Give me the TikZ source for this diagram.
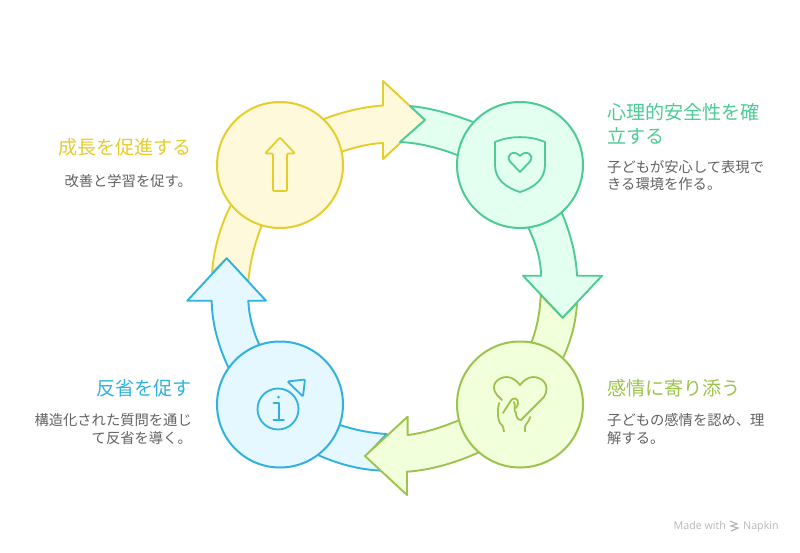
\documentclass[tikz,border=0pt]{standalone}
\usepackage{fontspec}
\setmainfont{Noto Sans CJK JP}[Scale=1]
\newfontfamily\latinf{Open Sans}
\definecolor{yl}{HTML}{E5CD2B}\definecolor{ylf}{HTML}{FFF9DB}
\definecolor{gr}{HTML}{4CCB94}\definecolor{grf}{HTML}{E2FFF0}
\definecolor{li}{HTML}{9CC44C}\definecolor{lif}{HTML}{F1FFDB}
\definecolor{bl}{HTML}{2FB2E0}\definecolor{blf}{HTML}{E5F7FF}
\definecolor{bodyc}{HTML}{636363}
\tikzset{
 shp/.style={line width=1.9pt,line join=round},
 ico/.style={line width=1.8pt,line join=round,line cap=round},
 circ/.style={circle,minimum size=126pt,inner sep=0pt,line width=2pt},
 ttl/.style={inner sep=0pt,font=\fontsize{19.1}{24.7}\selectfont},
 bdy/.style={inner sep=0pt,text=bodyc,font=\fontsize{14.3}{17.7}\selectfont},
 mde/.style={inner sep=0pt,anchor=base west,text=black!28,font=\latinf\fontsize{10.7}{12}\selectfont},
}
\begin{document}
\begin{tikzpicture}[x=1pt,y=-1pt]
\useasboundingbox[fill=white] (0,0) rectangle (800,552);
% yellow arrow
\draw[shp,draw=yl,fill=ylf] (231,205) .. controls (222,222) and (214,246) .. (212,273) -- (226.7,258.3) -- (248.3,281.7) .. controls (250,262) and (255,242) .. (262,225) -- (342,151.5) .. controls (356,147) and (370,143.5) .. (383,143) -- (383,159) -- (425,120) -- (383,81) -- (383,105.5) .. controls (362,107) and (342,112) .. (324,119) -- cycle;
% blue arrow
\draw[shp,draw=bl,fill=blf] (386.7,434) .. controls (370,433) and (355,430) .. (340,425) -- (259,344) .. controls (253,331) and (249,316) .. (248.3,300.7) -- (266,300.7) -- (226.7,258.3) -- (187.3,300.7) -- (211.7,300.7) .. controls (212,325) and (219,347) .. (228,366.7) -- (318,455) .. controls (338,464) and (360,470) .. (383,470.7) -- (366,456) -- cycle;
% lime arrow
\draw[shp,draw=li,fill=lif] (540.7,295) .. controls (540,312) and (537,328) .. (531.7,341.7) -- (458,420.7) .. controls (442,427) and (425,433) .. (407.6,435) -- (407.6,416.7) -- (365,456) -- (407,495) -- (407,471.7) .. controls (431,470) and (455,463) .. (478,452.7) -- (563,358) .. controls (571,341) and (576,322) .. (577,303) -- (562.7,317.7) -- cycle;
% green arrow
\draw[shp,draw=gr,fill=grf] (410,106) .. controls (431,108) and (452,114) .. (473,122) -- (528,226.7) .. controls (535,242) and (541,258) .. (541,275.7) -- (523,275.7) -- (562.7,317.7) -- (602,275.7) -- (577,275.7) .. controls (576,254) and (570,232) .. (561.7,212.7) -- (457,155) .. controls (439,148) and (420,143) .. (400,142) -- (425,120) -- cycle;
% circles
\node[circ,draw=yl,fill=ylf] (c1) at (280,165) {};
\node[circ,draw=gr,fill=grf] (c2) at (520,165) {};
\node[circ,draw=li,fill=lif] (c3) at (520,404.5) {};
\node[circ,draw=bl,fill=blf] (c4) at (280,404.5) {};
% icon up arrow
\draw[ico,draw=yl,rounded corners=1.2pt] (280,137.5) -- (295,153.5) -- (287,153.5) -- (287,191) -- (273,191) -- (273,153.5) -- (265,153.5) -- cycle;
% icon shield
\draw[ico,draw=gr] (495,142) .. controls (510,135.5) and (530,135.5) .. (545,142) -- (545,165) .. controls (545,180) and (533,188) .. (520,192) .. controls (507,188) and (495,180) .. (495,165) -- cycle;
\draw[ico,draw=gr] (520,172) -- (510,161.5) .. controls (505,155) and (514,149) .. (520,156) .. controls (526,149) and (535,155) .. (530,161.5) -- cycle;
% icon heart hand
\draw[ico,draw=li] (502,400) -- (497,395) .. controls (489,385) and (498,377) .. (507,377) .. controls (512,377) and (517,381) .. (520,385) .. controls (523,381) and (528,377) .. (533,377) .. controls (542,377) and (551,385) .. (544,397) -- (521,420) .. controls (518,420) and (516,417) .. (516,413) .. controls (513,411) and (516,405) .. (514,402);
\draw[ico,draw=li] (503,413) -- (510,402) .. controls (513,396) and (519,398) .. (518,404) -- (516,408);
\draw[ico,draw=li] (499,403) .. controls (497,412) and (498,420) .. (500,423) .. controls (503,426) and (504,428) .. (504,431.5);
\draw[ico,draw=li] (530,417) .. controls (530,421) and (525,424) .. (525,427) -- (525,431.5);
% icon info
\draw[ico,draw=bl] (278,409) circle (20.5);
\draw[ico,draw=bl] (273.5,403) -- (279,403) -- (279,420) (273.5,420) -- (284,420);
\fill[bl] (278.5,397) circle (1.5);
\draw[ico,draw=bl,rounded corners=1pt] (287.5,381.5) -- (305,379.5) -- (303,396.5) -- cycle;
% texts
\node[ttl,text=yl,anchor=base east] (t1) at (192,154) {成長を促進する};
\node[bdy,anchor=base east] (b1) at (192,186.5) {改善と学習を促す。};
\node[ttl,text=gr,anchor=base west,align=left] (t2) at (607,143.7) {心理的安全性を確\\立する};
\node[bdy,anchor=base west,align=left] (b2) at (607,189.7) {子どもが安心して表現で\\きる環境を作る。};
\node[ttl,text=li,anchor=base west] (t3) at (607,395) {感情に寄り添う};
\node[bdy,anchor=base west,align=left] (b3) at (607,443.5) {子どもの感情を認め、理\\解する。};
\node[ttl,text=bl,anchor=base east] (t4) at (192,395) {反省を促す};
\node[bdy,anchor=base east,align=right] (b4) at (192,443.5) {構造化された質問を通じ\\て反省を導く。};
\node[mde] (m1) at (673.5,529) {Made with};
\node[mde] (m2) at (743,529) {Napkin};
\draw[line width=1.1pt,black!30] (730,521) -- (737,524) -- (731,526) -- (738,528) -- (731,531);
\end{tikzpicture}
\end{document}
